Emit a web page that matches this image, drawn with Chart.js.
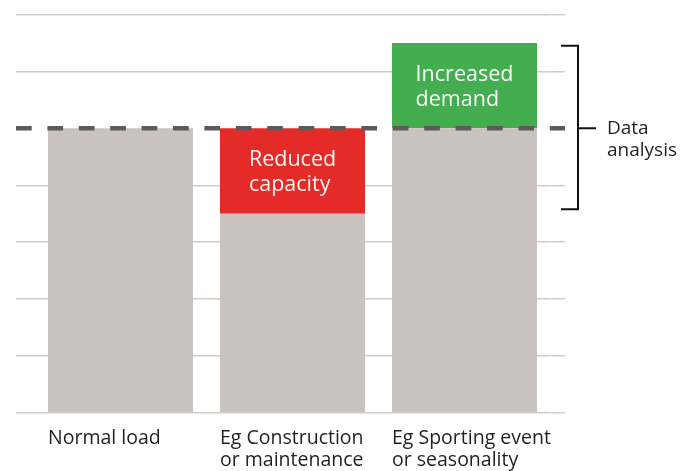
<!DOCTYPE html>
<html><head><meta charset="utf-8">
<script src="https://cdn.jsdelivr.net/npm/chart.js@4"></script>
<style>html,body{margin:0;padding:0;background:#fff}#wrap{width:681px;height:471px;position:relative}</style>
</head><body><div id="wrap"><canvas id="c"></canvas></div>
<script>
const categories = [['Normal load'], ['Eg Construction', 'or maintenance'], ['Eg Sporting event', 'or seasonality']];
const baseLoad = [5, 3.5, 5];
const reducedCapacity = [0, 1.5, 0];
const increasedDemand = [0, 0, 1.5];
const reducedLabel = ['Reduced', 'capacity'];
const increasedLabel = ['Increased', 'demand'];
const yMin = 0, yMax = 7, yStep = 1;
const thresholdValue = 5;
const bracketRange = [3.58, 6.45];
const bracketLabel = ['Data', 'analysis'];

const FONT = '"Open Sans", sans-serif';
const GRID = '#d2ccc9';
const TEXT = '#231f20';

const barText = {
  id: 'barText',
  afterDatasetsDraw(chart) {
    const ctx = chart.ctx;
    const map = { 1: reducedLabel, 2: increasedLabel };
    ctx.save();
    ctx.font = '21.5px ' + FONT;
    ctx.fillStyle = 'rgba(255,255,255,0.95)';
    ctx.textAlign = 'left';
    ctx.textBaseline = 'alphabetic';
    Object.keys(map).forEach(di => {
      const lines = map[di];
      const meta = chart.getDatasetMeta(+di);
      meta.data.forEach((el, i) => {
        if (!chart.data.datasets[di].data[i]) return;
        const w = Math.max(...lines.map(l => ctx.measureText(l).width));
        const x0 = el.x - w / 2;
        const cy = (el.y + el.base) / 2;
        ctx.fillText(lines[0], x0, cy - 5);
        ctx.fillText(lines[1], x0, cy + 20);
      });
    });
    ctx.restore();
  }
};

const thresholdAndBracket = {
  id: 'thresholdAndBracket',
  afterDatasetsDraw(chart) {
    const ctx = chart.ctx;
    const y = chart.scales.y, y2 = chart.scales.y2;
    const py = y.getPixelForValue(thresholdValue);
    ctx.save();
    ctx.strokeStyle = '#5b5b5b';
    ctx.lineWidth = 4.5;
    ctx.setLineDash([15.7, 15.7]);
    ctx.beginPath();
    ctx.moveTo(y.left, py);
    ctx.lineTo(y2.right, py);
    ctx.stroke();
    ctx.setLineDash([]);
    const bx = y2.right + 13;
    const top = y.getPixelForValue(bracketRange[1]);
    const bot = y.getPixelForValue(bracketRange[0]);
    ctx.strokeStyle = '#111';
    ctx.lineWidth = 2;
    ctx.beginPath();
    ctx.moveTo(bx - 17, top); ctx.lineTo(bx, top); ctx.lineTo(bx, bot); ctx.lineTo(bx - 17, bot);
    ctx.moveTo(bx, py); ctx.lineTo(bx + 18, py);
    ctx.stroke();
    ctx.fillStyle = TEXT;
    ctx.font = '19px ' + FONT;
    ctx.textAlign = 'left';
    ctx.textBaseline = 'alphabetic';
    ctx.fillText(bracketLabel[0], bx + 29, py + 6);
    ctx.fillText(bracketLabel[1], bx + 29, py + 28);
    ctx.restore();
  }
};

new Chart(document.getElementById('c'), {
  type: 'bar',
  data: {
    labels: categories,
    datasets: [
      { label: 'Base', data: baseLoad, backgroundColor: '#cac3c0' },
      { label: 'Reduced capacity', data: reducedCapacity, backgroundColor: '#e52b27' },
      { label: 'Increased demand', data: increasedDemand, backgroundColor: '#43ad4f' }
    ]
  },
  options: {
    responsive: true,
    maintainAspectRatio: false,
    animation: false,
    layout: { padding: { left: 16, right: 116, top: 14.5, bottom: 0 } },
    datasets: { bar: { categoryPercentage: 1, barPercentage: 145 / 172, borderWidth: 0 } },
    plugins: { legend: { display: false }, tooltip: { enabled: false } },
    scales: {
      x: {
        stacked: true,
        grid: { display: false, drawTicks: false },
        border: { display: false },
        afterFit: s => { s.height = 58; },
        ticks: {
          align: 'start',
          labelOffset: -72.5,
          padding: 14,
          color: TEXT,
          font: { family: FONT, size: 19.5, lineHeight: 22 / 19.5 },
          maxRotation: 0, autoSkip: false
        }
      },
      y: {
        stacked: true,
        min: yMin, max: yMax,
        ticks: { display: false, stepSize: yStep },
        border: { display: false },
        grid: {
          color: c => c.tick && c.tick.value === thresholdValue ? 'rgba(0,0,0,0)' : GRID,
          lineWidth: 1.5, drawTicks: true, tickLength: 18.5
        }
      },
      y2: {
        position: 'right',
        min: yMin, max: yMax,
        ticks: { display: false, stepSize: yStep },
        border: { display: false },
        grid: {
          drawOnChartArea: false,
          color: c => c.tick && c.tick.value === thresholdValue ? 'rgba(0,0,0,0)' : GRID,
          lineWidth: 1.5, drawTicks: true, tickLength: 14.5
        }
      }
    }
  },
  plugins: [barText, thresholdAndBracket]
});
</script></body></html>
